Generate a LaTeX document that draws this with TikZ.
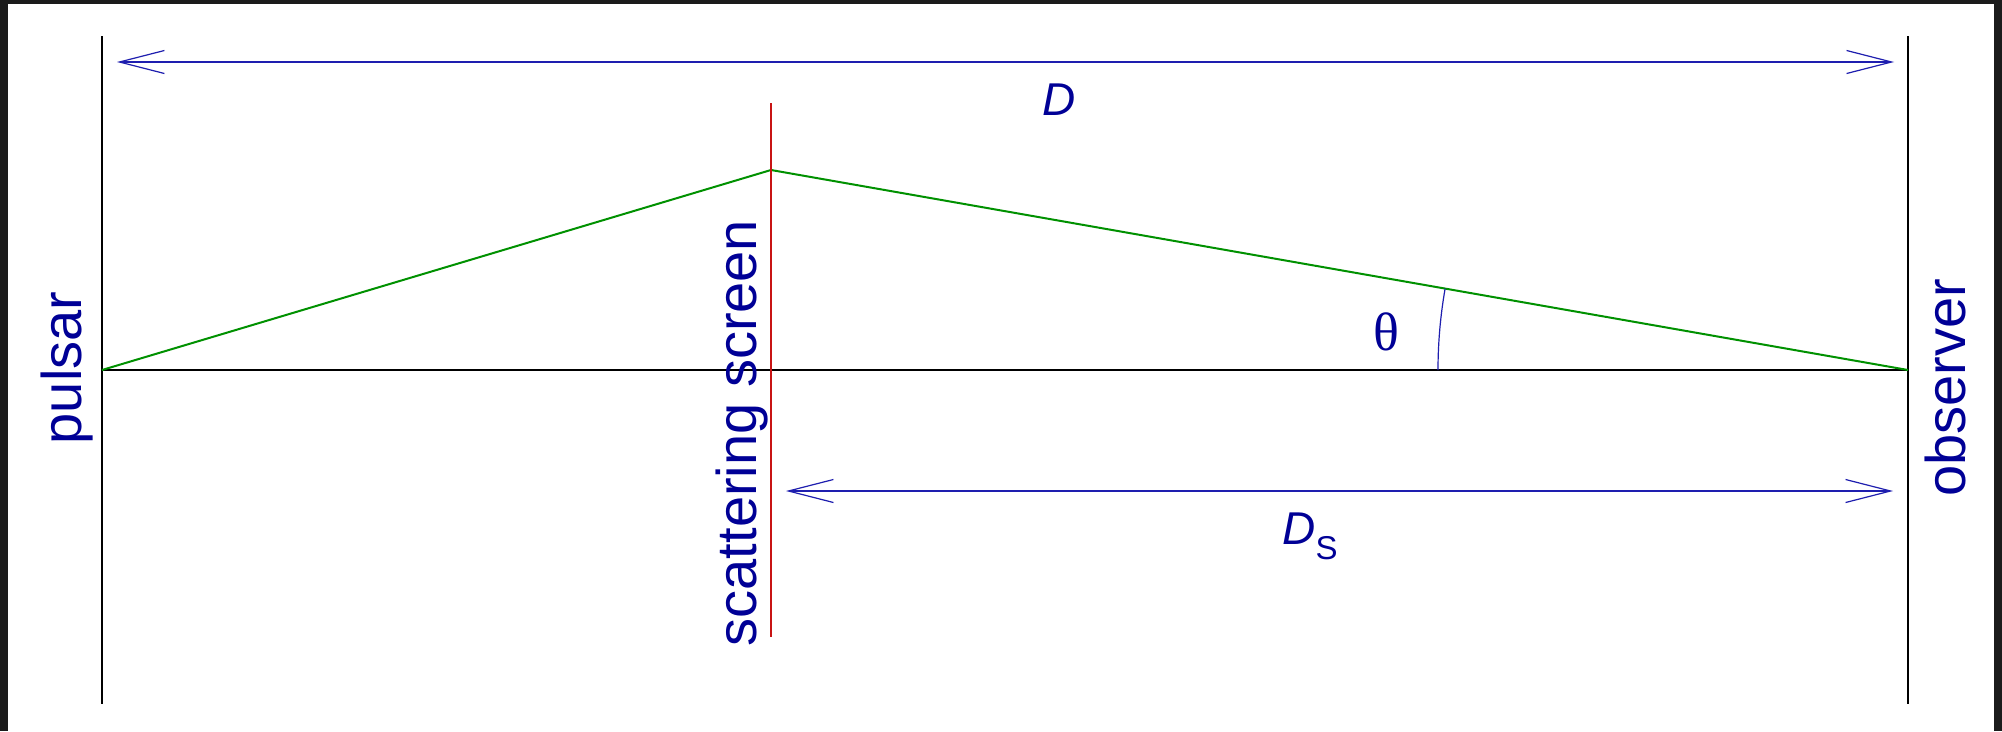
\documentclass[tikz,border=0pt]{standalone}
\usepackage{fontspec}
\setmainfont{Liberation Sans}
\newfontfamily\serifgr{Liberation Serif}
\usetikzlibrary{arrows.meta}
\definecolor{txtblue}{RGB}{0,0,150}
\definecolor{lineblue}{RGB}{30,30,175}
\definecolor{raygreen}{RGB}{0,145,0}
\definecolor{screenred}{RGB}{200,20,20}
\definecolor{frame}{RGB}{27,27,27}
\tikzset{
  axis/.style={draw=black,line width=2pt},
  ray/.style={draw=raygreen,line width=2pt},
  screenline/.style={draw=screenred,line width=2pt},
  dimarrow/.style={draw=lineblue,line width=1.2pt,{Straight Barb[length=45pt,width=23pt]}-{Straight Barb[length=45pt,width=23pt]}},
  biglabel/.style={text=txtblue,font=\fontsize{56}{60}\selectfont,inner sep=0pt,rotate=90,anchor=base},
  dimlabel/.style={text=txtblue,inner sep=0pt,anchor=base},
}
\begin{document}
\begin{tikzpicture}[x=1pt,y=-1pt]
\fill[frame] (0,0) rectangle (2002,731);
\fill[white] (8,4) rectangle (1994,731);
\useasboundingbox (0,0) rectangle (2002,731);
% points
\coordinate (pulsar) at (102,370);
\coordinate (observer) at (1908,370);
\coordinate (apex) at (771,170);
\coordinate (pulsartop) at (102,36);
\coordinate (pulsarbot) at (102,704);
\coordinate (obstop) at (1908,36);
\coordinate (obsbot) at (1908,704);
\coordinate (scrtop) at (771,103);
\coordinate (scrbot) at (771,637);
\coordinate (Dl) at (117,62);
\coordinate (Dr) at (1894,62);
\coordinate (DSl) at (786,491);
\coordinate (DSr) at (1893,491);
% lines
\draw[axis] (pulsartop) -- (pulsarbot);
\draw[axis] (obstop) -- (obsbot);
\draw[axis] (pulsar) -- (observer);
\draw[ray] (pulsar) -- (apex) -- (observer);
\draw[screenline] (scrtop) -- (scrbot);
\draw[dimarrow] (Dl) -- (Dr);
\draw[dimarrow] (DSl) -- (DSr);
\draw[draw=lineblue,line width=1.2pt] (observer) ++(-470,0) arc[start angle=180,end angle=189.97,radius=470];
% labels
\node[biglabel] (lpulsar) at (81,368) {pulsar};
\node[biglabel] (lobserver) at (1965,388) {observer};
\node[biglabel] (lscreen) at (756,433) {scattering screen};
\node[dimlabel,font=\fontsize{46}{50}\selectfont\itshape] (lD) at (1059,115) {D};
\node[dimlabel,font=\fontsize{46}{50}\selectfont] (lDS) at (1310,544) {\textit{D}\raisebox{-15pt}{\fontsize{33}{36}\selectfont S}};
\node[dimlabel,font=\fontsize{54}{58}\selectfont\serifgr] (ltheta) at (1386,350) {θ};
\end{tikzpicture}
\end{document}
